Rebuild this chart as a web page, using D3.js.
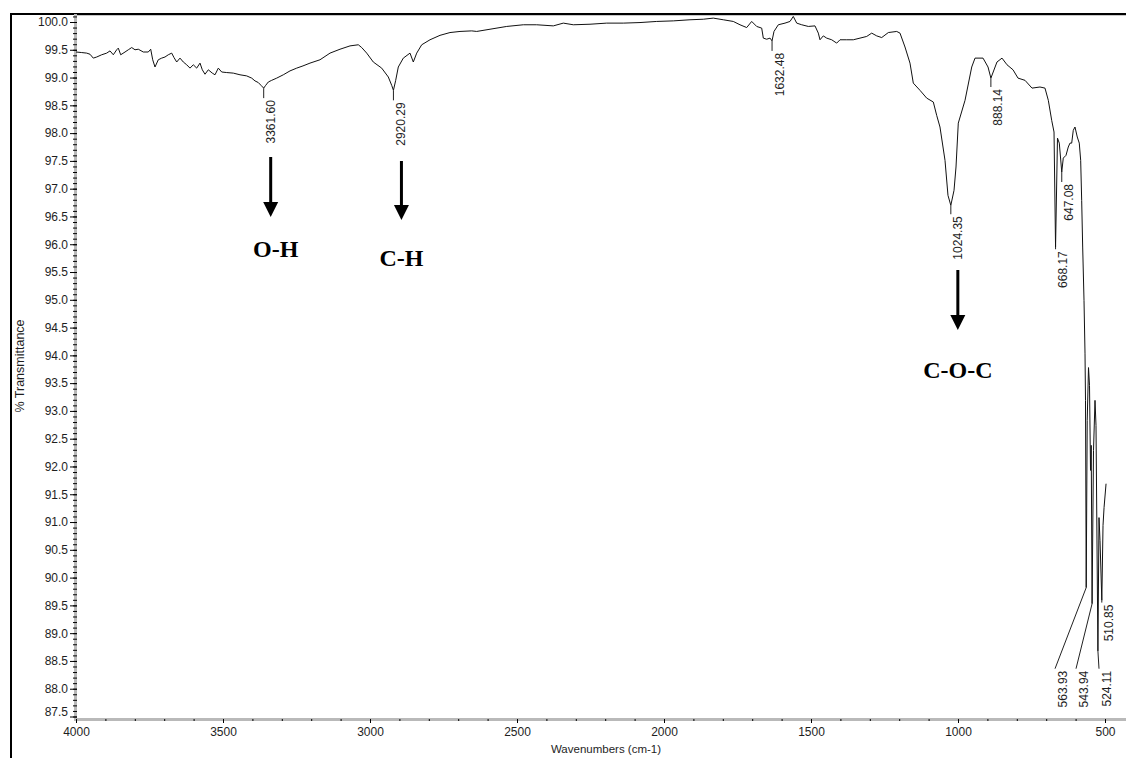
<!DOCTYPE html>
<html>
<head>
<meta charset="utf-8">
<script src="https://cdn.jsdelivr.net/npm/d3@7"></script>
<style>
	body { margin: 0; background: #fff; }
	svg { display: block; font-family: "Liberation Sans", Arial, sans-serif; }
</style>
</head>
<body>
<div class="chart"></div>
<script>
// spectrum: wavenumber (cm-1) and % transmittance
const wavenumbers = [
	4000, 3980.6, 3963.6, 3952.4, 3941.2, 3929.6, 3912.6, 3895.6, 3884.3, 3873.1,
	3861.6, 3856.1, 3848.0, 3833.3, 3822.1, 3810.5, 3799.3, 3788.1, 3771.1, 3754.1,
	3745.9, 3739.1, 3731.3, 3720.1, 3708.5, 3697.3, 3686.1, 3674.5, 3666.7, 3657.5,
	3646.3, 3635.0, 3623.5, 3612.2, 3601.0, 3589.5, 3578.2, 3570.4, 3561.2, 3550.0,
	3536.4, 3527.2, 3515.9, 3504.4, 3487.4, 3464.9, 3442.2, 3419.4, 3402.4, 3391.2,
	3379.9, 3370.8, 3361.6, 3354.8, 3345.9, 3334.4, 3317.3, 3294.9, 3272.1, 3249.3,
	3227.9, 3204.1, 3170.1, 3136.0, 3102.0, 3068.0, 3039.8, 3028.2, 3011.2, 2988.8,
	2960.2, 2937.7, 2926.2, 2920.3, 2912.6, 2903.7, 2886.7, 2863.9, 2852.7, 2841.1,
	2824.1, 2795.9, 2761.9, 2727.9, 2693.9, 2654.1, 2637.1, 2591.8, 2535.0, 2478.5,
	2433.0, 2376.5, 2342.5, 2308.5, 2251.7, 2194.9, 2138.4, 2081.6, 2024.8, 1968.4,
	1911.6, 1866.3, 1832.3, 1798.3, 1764.3, 1741.5, 1718.7, 1701.7, 1684.7, 1667.7,
	1662.2, 1650.7, 1639.4, 1632.5, 1625.9, 1611.2, 1588.4, 1571.4, 1560.2, 1548.6,
	1531.6, 1509.1, 1486.4, 1475.1, 1469.4, 1458.2, 1446.6, 1429.6, 1412.6, 1401.3,
	1378.5, 1356.1, 1333.3, 1310.5, 1293.5, 1276.5, 1259.5, 1237.0, 1208.5, 1197.3,
	1180.3, 1163.3, 1152.0, 1129.3, 1106.5, 1084.0, 1072.5, 1061.3, 1044.2, 1034.1,
	1024.4, 1013.5, 1006.8, 999.0, 976.1, 953.3, 942.1, 914.9, 897.9, 888.1,
	867.4, 850.3, 833.3, 812.9, 795.9, 772.1, 748.3, 721.1, 704.1, 692.8,
	681.3, 673.4, 668.2, 661.6, 655.5, 647.1, 641.9, 632.7, 624.9, 619.1,
	613.3, 607.9, 602.1, 594.3, 587.5, 582.7, 579.3, 575.9, 571.4, 568.0,
	566.3, 563.9, 560.5, 556.1, 552.7, 549.3, 546.9, 543.9, 539.1, 534.0,
	530.6, 524.1, 520.4, 517.0, 510.8, 506.7, 503.2, 496.4
];
const transmittance = [
	99.46, 99.45, 99.44, 99.42, 99.35, 99.37, 99.41, 99.44, 99.48, 99.41,
	99.50, 99.53, 99.41, 99.46, 99.50, 99.54, 99.50, 99.51, 99.46, 99.46,
	99.51, 99.32, 99.19, 99.32, 99.35, 99.37, 99.41, 99.44, 99.36, 99.28,
	99.35, 99.28, 99.23, 99.17, 99.23, 99.17, 99.26, 99.14, 99.06, 99.14,
	99.08, 99.05, 99.17, 99.10, 99.09, 99.08, 99.05, 99.03, 98.99, 98.94,
	98.91, 98.86, 98.81, 98.86, 98.92, 98.95, 98.99, 99.05, 99.12, 99.17,
	99.21, 99.26, 99.32, 99.44, 99.51, 99.57, 99.59, 99.54, 99.44, 99.28,
	99.17, 99.01, 98.86, 98.77, 98.95, 99.19, 99.35, 99.44, 99.28, 99.44,
	99.59, 99.68, 99.76, 99.81, 99.83, 99.84, 99.83, 99.87, 99.92, 99.95,
	99.95, 99.93, 99.98, 99.95, 99.96, 99.98, 99.98, 99.99, 100.01, 100.02,
	100.04, 100.05, 100.07, 100.04, 100.01, 99.95, 99.90, 100.01, 99.92, 99.89,
	99.71, 99.69, 99.71, 99.66, 99.83, 99.95, 99.98, 100.01, 100.10, 99.98,
	99.95, 99.92, 99.93, 99.80, 99.68, 99.75, 99.71, 99.68, 99.62, 99.68,
	99.68, 99.68, 99.71, 99.74, 99.80, 99.75, 99.72, 99.81, 99.83, 99.80,
	99.55, 99.26, 98.90, 98.77, 98.63, 98.56, 98.32, 98.11, 97.51, 96.88,
	96.70, 96.97, 97.39, 98.18, 98.59, 99.19, 99.35, 99.35, 99.19, 98.99,
	99.28, 99.35, 99.23, 99.14, 98.99, 98.95, 98.81, 98.83, 98.81, 98.59,
	98.23, 98.02, 95.95, 97.91, 97.82, 97.30, 97.55, 97.60, 97.75, 97.82,
	97.82, 98.05, 98.11, 97.93, 97.82, 97.51, 96.79, 95.95, 94.99, 94.04,
	93.19, 89.82, 92.83, 93.78, 93.46, 91.93, 92.38, 89.53, 92.29, 93.19,
	92.74, 88.68, 91.08, 90.67, 89.59, 90.94, 91.26, 91.69
];

const xTicks = [4000, 3500, 3000, 2500, 2000, 1500, 1000, 500];
const yTicks = [87.5, 88.0, 88.5, 89.0, 89.5, 90.0, 90.5, 91.0, 91.5, 92.0, 92.5, 93.0, 93.5,
	94.0, 94.5, 95.0, 95.5, 96.0, 96.5, 97.0, 97.5, 98.0, 98.5, 99.0, 99.5, 100.0];

// picked peaks: where the peak is, and where its label hangs
const peakNames = ["3361.60", "2920.29", "1632.48", "1024.35", "888.14", "668.17", "647.08", "563.93", "543.94", "524.11", "510.85"];
const peakWn = [3361.60, 2920.29, 1632.48, 1024.35, 888.14, 668.17, 647.08, 563.93, 543.94, 524.11, 510.85];
const peakT = [98.81, 98.77, 99.66, 96.70, 98.99, 95.95, 97.30, 89.82, 89.53, 88.68, 89.59];
const labelWn = [3361.60, 2920.29, 1632.48, 1024.35, 888.14, 668.17, 647.08, 670.0, 598.6, 520.4, 510.85];
const labelT = [98.63, 98.59, 99.48, 96.54, 98.83, 95.91, 97.12, 88.36, 88.36, 88.36, 89.55];

// functional groups pointed at with arrows
const groupNames = ["O-H", "C-H", "C-O-C"];
const groupWn = [3361.60, 2920.29, 1024.35];

var w = 1126,
	h = 758,
	plotLeft = 76,
	plotTop = 14,
	plotBottom = 719;

var svg = d3.select(".chart").append("svg").attr("width", w).attr("height", h);

const x = d3.scaleLinear().domain([4000, 500]).range([76, 1105]);
const y = d3.scaleLinear().domain([87.5, 100]).range([716.5, 22]);

// outer frame
svg.append("line").attr("x1", 11).attr("x2", 11).attr("y1", 13).attr("y2", h)
	.attr("stroke", "#000").attr("stroke-width", 2);
svg.append("line").attr("x1", 10).attr("x2", w).attr("y1", 14).attr("y2", 14)
	.attr("stroke", "#000").attr("stroke-width", 2);
svg.append("line").attr("x1", plotLeft).attr("x2", w).attr("y1", 15.5).attr("y2", 15.5)
	.attr("stroke", "#c8c8c8").attr("stroke-width", 1);

// grey axis bands
svg.append("rect").attr("x", plotLeft - 2).attr("y", plotTop).attr("width", 3).attr("height", plotBottom - plotTop + 1)
	.attr("fill", "#b9b9b9");
svg.append("rect").attr("x", plotLeft - 2).attr("y", plotBottom - 1).attr("width", w - plotLeft + 2).attr("height", 3)
	.attr("fill", "#b9b9b9");

// y axis
const yMinor = d3.range(875, 1002).map((d) => d / 10);
svg.append("g")
	.attr("transform", "translate(" + (plotLeft + 1) + ",0)")
	.call(d3.axisLeft(y).tickValues(yMinor).tickSize(4).tickFormat(""))
	.call((g) => g.select(".domain").remove());
const yAxis = svg.append("g")
	.attr("transform", "translate(" + (plotLeft + 1) + ",0)")
	.call(d3.axisLeft(y).tickValues(yTicks).tickSize(7).tickPadding(2).tickFormat(d3.format(".1f")));
yAxis.select(".domain").remove();
yAxis.selectAll("text").attr("font-size", 12).attr("fill", "#1e1e1e")
	.attr("font-family", "'Liberation Sans', Arial, sans-serif")
	.attr("dy", (d) => (d === 87.5 ? "-0.1em" : "0.32em"));

// x axis
const xMinor = d3.range(4000, 400, -100);
svg.append("g")
	.attr("transform", "translate(0," + plotBottom + ")")
	.call(d3.axisBottom(x).tickValues(xMinor).tickSize(2).tickFormat(""))
	.call((g) => g.select(".domain").remove());
const xAxis = svg.append("g")
	.attr("transform", "translate(0," + plotBottom + ")")
	.call(d3.axisBottom(x).tickValues(xTicks).tickSize(4).tickPadding(4).tickFormat(d3.format("d")));
xAxis.select(".domain").remove();
xAxis.selectAll("text").attr("font-size", 12).attr("fill", "#1e1e1e")
	.attr("font-family", "'Liberation Sans', Arial, sans-serif");

// axis titles
svg.append("text")
	.attr("transform", "translate(24,366) rotate(-90)")
	.attr("text-anchor", "middle")
	.attr("font-size", 12.5)
	.attr("fill", "#1e1e1e")
	.text("% Transmittance");
svg.append("text")
	.attr("x", 606).attr("y", 753)
	.attr("text-anchor", "middle")
	.attr("font-size", 11.5)
	.attr("fill", "#1e1e1e")
	.text("Wavenumbers (cm-1)");

// spectrum
svg.append("clipPath").attr("id", "plot-clip")
	.append("rect").attr("x", plotLeft).attr("y", plotTop).attr("width", w - plotLeft).attr("height", plotBottom - plotTop);

const spectrum = wavenumbers.map((d, i) => [d, transmittance[i]]);
const line = d3.line().x((d) => x(d[0])).y((d) => y(d[1]));

svg.append("path")
	.datum(spectrum)
	.attr("clip-path", "url(#plot-clip)")
	.attr("fill", "none")
	.attr("stroke", "#111")
	.attr("stroke-width", 1)
	.attr("stroke-linejoin", "round")
	.attr("d", line);

// peak leaders and labels
const peaks = peakNames.map((name, i) => ({ name: name, wn: peakWn[i], t: peakT[i], lwn: labelWn[i], lt: labelT[i] }));

svg.selectAll(".leader")
	.data(peaks)
	.enter()
	.append("line")
	.attr("class", "leader")
	.attr("x1", (d) => x(d.wn))
	.attr("y1", (d) => y(d.t))
	.attr("x2", (d) => x(d.lwn))
	.attr("y2", (d) => y(d.lt))
	.attr("stroke", "#222")
	.attr("stroke-width", 1);

svg.selectAll(".peak-label")
	.data(peaks)
	.enter()
	.append("text")
	.attr("class", "peak-label")
	.attr("transform", (d) => "translate(" + (x(d.lwn) + 11.5) + "," + (y(d.lt) + 2) + ") rotate(-90)")
	.attr("text-anchor", "end")
	.attr("font-size", 12)
	.attr("fill", "#1e1e1e")
	.text((d) => d.name);

// functional group arrows (offsets in px from the peak)
const arrowDx = [7, 8, 7];
const textDx = [12, 8, 7];
const arrowTop = [157, 161, 270];
const arrowTip = [217, 220, 330];
const textBase = [257, 266, 378];

groupNames.forEach((name, i) => {
	const ax = x(groupWn[i]) + arrowDx[i];
	svg.append("line")
		.attr("x1", ax).attr("x2", ax)
		.attr("y1", arrowTop[i]).attr("y2", arrowTip[i] - 12)
		.attr("stroke", "#000").attr("stroke-width", 3);
	svg.append("path")
		.attr("d", "M" + (ax - 7.5) + "," + (arrowTip[i] - 15) + "L" + (ax + 7.5) + "," + (arrowTip[i] - 15) + "L" + ax + "," + arrowTip[i] + "Z")
		.attr("fill", "#000");
	svg.append("text")
		.attr("x", x(groupWn[i]) + textDx[i])
		.attr("y", textBase[i])
		.attr("text-anchor", "middle")
		.attr("font-family", "'Liberation Serif', 'Times New Roman', serif")
		.attr("font-weight", "bold")
		.attr("font-size", 24)
		.text(name);
});
</script>
</body>
</html>
